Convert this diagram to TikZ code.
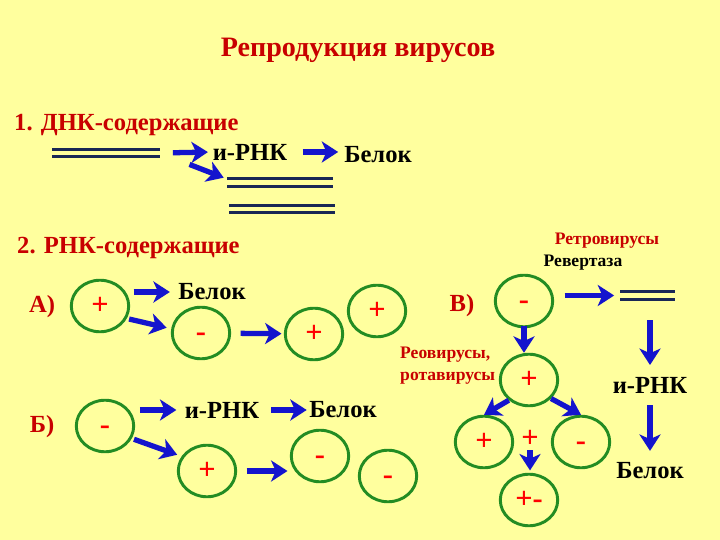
\documentclass[tikz,border=0pt]{standalone}
\usepackage{fontspec}
\setmainfont{Liberation Serif}
\usetikzlibrary{arrows.meta, shapes.geometric}

\definecolor{paper}{RGB}{255,255,158}
\definecolor{darkred}{RGB}{200,0,0}
\definecolor{navy}{RGB}{25,40,85}
\definecolor{arrowblue}{RGB}{20,20,205}
\definecolor{ringgreen}{RGB}{35,140,35}

\tikzset{
	virion/.style = {ellipse, draw = ringgreen, line width = 2.5pt, minimum width = 49pt, minimum height = 44pt, inner sep = 0pt, text height = 14pt, text depth = 0pt, text = red, font = \bfseries\fontsize{26}{26}\selectfont},
	heading/.style = {text = darkred, font = \bfseries\fontsize{21}{21}\selectfont, inner sep = 0pt},
	product/.style = {text = black, font = \bfseries\fontsize{21}{21}\selectfont, inner sep = 0pt},
	remark/.style = {text = darkred, font = \bfseries\fontsize{15}{19}\selectfont, inner sep = 0pt},
	dnastrand/.style = {navy, line width = 2.5pt, double = paper, double distance = 4pt},
	arr/.style = {arrowblue, line width = 4.5pt, -{Stealth[length = 14pt, width = 18pt, inset = 4pt]}}
}

\begin{document}
\begin{tikzpicture}[x = 0.03cm, y = -0.03cm]
		\useasboundingbox (0,0) rectangle (720,540);
		\fill [paper] (0,0) rectangle (720,540);
		
		\node [heading, font = \bfseries\fontsize{24}{24}\selectfont] (title) at (358,50) {Репродукция вирусов};
		
		% 1. DNA viruses
		\node [heading, anchor = west] (sec1) at (14,125) {1. ДНК-содержащие};
		
		\coordinate (dna1a) at (52,153);
		\coordinate (dna1b) at (160,153);
		\coordinate (dna2a) at (227,182.5);
		\coordinate (dna2b) at (333,182.5);
		\coordinate (dna3a) at (229,209);
		\coordinate (dna3b) at (335,209);
		
		\draw [dnastrand] (dna1a) -- (dna1b);
		\draw [dnastrand] (dna2a) -- (dna2b);
		\draw [dnastrand] (dna3a) -- (dna3b);
		
		\node [product] (mrna1) at (250,152) {и-РНК};
		\node [product] (prot1) at (378,155) {Белок};
		
		\draw [arr, shorten < = 11pt, shorten > = 4pt] (dna1b) -- (mrna1.west);
		\draw [arr, shorten < = 13pt, shorten > = 5pt] (mrna1.east) -- (mrna1.east -| prot1.west);
		\draw [arr, shorten < = 27pt, shorten > = 3pt] (dna1b) -- ([yshift = 3]dna2a);
		
		% 2. RNA viruses
		\node [heading, anchor = west] (sec2) at (17,248) {2. РНК-содержащие};
		
		% A)
		\node [heading] (labA) at (42,307) {А)};
		\node [virion] (cA1) at (100,306) {+};
		\node [product] (belA) at (212,292) {Белок};
		\node [virion] (cA2) at (201,333) {-};
		\node [virion] (cA3) at (314,334) {+};
		\node [virion] (cA4) at (377,311) {+};
		
		\draw [arr, shorten < = 3pt, shorten > = 7pt] (cA1.east |- belA) -- (belA.west);
		\draw [arr, shorten < = 2pt, shorten > = 4pt] (cA1.-25) -- (cA2.172);
		\draw [arr, shorten < = 8pt, shorten > = 2pt] (cA2) -- (cA3);
		
		% B)
		\node [heading] (labC) at (42,427) {Б)};
		\node [virion] (cC1) at (105,426) {-};
		\node [product] (mrnaC) at (222,410) {и-РНК};
		\node [product] (protC) at (343,410) {Белок};
		\node [virion] (cC2) at (207,471) {+};
		\node [virion] (cC3) at (320,456) {-};
		\node [virion] (cC4) at (388,476) {-};
		
		\draw [arr, shorten < = 4pt, shorten > = 7pt] (cC1.east |- mrnaC) -- (mrnaC.west);
		\draw [arr, shorten < = 10pt, shorten > = 2pt] (mrnaC.east) -- (protC.west);
		\draw [arr, shorten < = 2pt, shorten > = 4pt] (cC1.-25) -- (cC2.150);
		\draw [arr, shorten < = 8pt, shorten > = 2pt] (cC2) -- (cC3.west |- cC2);
		
		% C) retroviruses and reoviruses
		\node [heading] (labB) at (462,306) {В)};
		\node [remark] (retro) at (607,241) {Ретровирусы};
		\node [product, font = \bfseries\fontsize{15}{15}\selectfont] (revert) at (583,263) {Ревертаза};
		\node [virion] (cB1) at (524,301) {-};
		
		\coordinate (rtA) at (620,295.5);
		\coordinate (rtB) at (675,295.5);
		\coordinate (rtM) at (650,295.5);
		\draw [dnastrand] (rtA) -- (rtB);
		
		\node [product] (mrnaB) at (650,385) {и-РНК};
		\node [product] (protB) at (650,471) {Белок};
		
		\draw [arr, shorten < = 9pt, shorten > = 5pt] (cB1.east |- rtA) -- (rtA);
		\draw [arr, shorten < = 21pt, shorten > = 10pt] (rtM) -- (mrnaB.north);
		\draw [arr, shorten < = 10pt, shorten > = 10pt] (mrnaB.south) -- (protB.north);
		
		\node [remark, align = left, anchor = west] (reo) at (400,366) {Реовирусы,\\ротавирусы};
		\node [virion] (cB2) at (529,380) {+};
		\node [virion] (cB3) at (484,442) {+};
		\node [virion] (cB4) at (581,442) {-};
		\node [text = red, font = \bfseries\fontsize{26}{26}\selectfont, inner sep = 0pt] (plusB) at (530,439) {+};
		\node [virion] (cB5) at (529,500) {+-};
		
		\draw [arr, shorten < = -2pt] (cB1.south) -- (cB1.south |- cB2.north);
		\draw [arr] (cB2.225) -- (cB3.north);
		\draw [arr] (cB2.-40) -- (cB4.north);
		\draw [arr, shorten < = 2pt, shorten > = 2pt] (plusB.south) -- (plusB.south |- cB5.north);
	\end{tikzpicture}
\end{document}
